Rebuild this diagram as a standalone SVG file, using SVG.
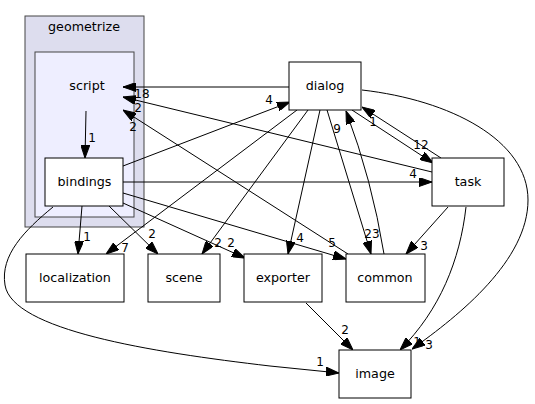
<svg xmlns="http://www.w3.org/2000/svg" width="535" height="404" viewBox="0 0 535 404">
<style>
.n{fill:#fff;stroke:#000;stroke-width:1}
.t{font-family:"DejaVu Sans",sans-serif;font-size:12.7px;text-anchor:middle;fill:#000}
.l{font-family:"DejaVu Sans",sans-serif;font-size:12px;text-anchor:middle;fill:#000}
.e{fill:none;stroke:#000;stroke-width:1;marker-end:url(#a)}
</style>
<defs>
<marker id="a" viewBox="0 0 13 9" refX="13" refY="4.5" markerWidth="13" markerHeight="9" orient="auto" markerUnits="userSpaceOnUse"><path d="M0,0 L13,4.5 L0,9z" fill="#000" stroke="#000" stroke-width="1"/></marker>
</defs>
<rect width="535" height="404" fill="#fff"/>
<g id="cluster_geometrize">
<rect x="25" y="16" width="119" height="211" fill="#ddddee" stroke="#444"/>
<text class="t" x="84" y="31">geometrize</text>
</g>
<g id="cluster_script">
<rect x="35" y="52" width="99" height="165" fill="#eeeeff" stroke="#444"/>
<text class="t" x="87" y="90">script</text>
</g>
<g id="edges">
<path class="e" d="M86,111 L85,158"/><text class="l" x="92" y="142">1</text>
<path class="e" d="M289,87 L123,87"/><text class="l" x="142" y="98">18</text>
<path class="e" d="M432,172 L123,97"/><text class="l" x="138" y="112">2</text>
<path class="e" d="M348,254 L123,110"/><text class="l" x="133" y="131">2</text>
<path class="e" d="M123,166 L290,102"/><text class="l" x="269" y="104">4</text>
<path class="e" d="M123,182 L432,182"/><text class="l" x="413" y="178">4</text>
<path class="e" d="M82,206 L78,254"/><text class="l" x="87" y="241">1</text>
<path class="e" d="M109,206 L158,254"/><text class="l" x="152" y="238">2</text>
<path class="e" d="M123,203 L245,258"/><text class="l" x="231" y="247">2</text>
<path class="e" d="M123,193 L346,259"/><text class="l" x="332" y="247">5</text>
<path class="e" d="M53,207 C25,230 0,255 5,285 C12,330 150,352 270,366 L339,373"/><text class="l" x="320" y="366">1</text>
<path class="e" d="M297,110 L106,254"/><text class="l" x="125" y="252">7</text>
<path class="e" d="M308,110 L202,254"/><text class="l" x="218" y="247">2</text>
<path class="e" d="M320,110 L288,254"/><text class="l" x="300" y="242">4</text>
<path class="e" d="M327,110 L371,254"/><text class="l" x="372" y="238">23</text>
<path class="e" d="M384,254 Q372,180 346,111"/><text class="l" x="337" y="133">9</text>
<path class="e" d="M352,110 L433,163"/><text class="l" x="373" y="126">1</text>
<path class="e" d="M441,158 L362,107"/><text class="l" x="421" y="149">12</text>
<text class="l" x="417" y="346">1</text>
<path class="e" d="M362,90 C450,100 528,140 528,200 C528,260 460,315 412,349"/><text class="l" x="429" y="349">3</text>
<path class="e" d="M448,207 L406,254"/><text class="l" x="424" y="250">3</text>
<path class="e" d="M466,207 C460,260 440,310 400,350"/>
<path class="e" d="M306,303 L353,350"/><text class="l" x="345" y="334">2</text>
</g>
<g id="bindings"><rect class="n" x="45" y="158" width="78" height="48"/><text class="t" x="84.5" y="186">bindings</text></g>
<g id="dialog"><rect class="n" x="289" y="62" width="72" height="48"/><text class="t" x="325" y="90">dialog</text></g>
<g id="task"><rect class="n" x="432" y="158" width="72" height="48"/><text class="t" x="468" y="186">task</text></g>
<g id="localization"><rect class="n" x="26" y="254" width="98" height="48"/><text class="t" x="75" y="282">localization</text></g>
<g id="scene"><rect class="n" x="148" y="254" width="72" height="48"/><text class="t" x="184" y="282">scene</text></g>
<g id="exporter"><rect class="n" x="244" y="254" width="78" height="48"/><text class="t" x="283" y="282">exporter</text></g>
<g id="common"><rect class="n" x="346" y="254" width="79" height="48"/><text class="t" x="385" y="282">common</text></g>
<g id="image"><rect class="n" x="339" y="350" width="72" height="48"/><text class="t" x="375" y="378">image</text></g>
</svg>
